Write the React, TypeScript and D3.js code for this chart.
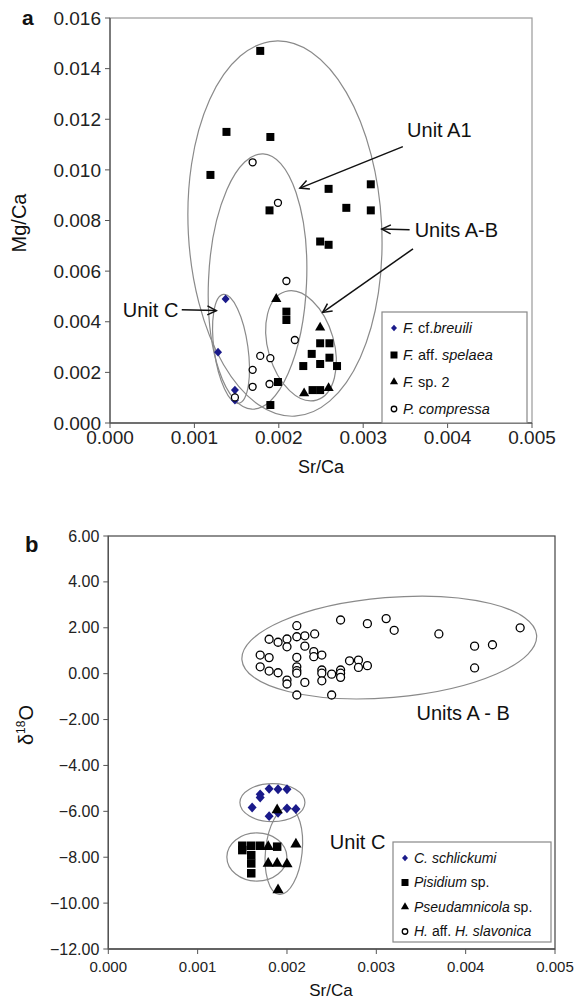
import React from "react";
import * as d3 from "d3";

// ---- panel a data (Sr/Ca, Mg/Ca) ----
const aBreuili = [[0.00137, 0.0049], [0.00128, 0.0028], [0.00148, 0.0013], [0.00148, 0.0009]];
const aSpelaea = [
  [0.00178, 0.0147], [0.00138, 0.0115], [0.0019, 0.0113], [0.00119, 0.0098],
  [0.00259, 0.00925], [0.00189, 0.0084], [0.0028, 0.0085], [0.00309, 0.00943],
  [0.00309, 0.0084], [0.00249, 0.00717], [0.00259, 0.00704], [0.00209, 0.0044],
  [0.00209, 0.00407], [0.00199, 0.00162], [0.0019, 0.00071], [0.00249, 0.00315],
  [0.0026, 0.00315], [0.00239, 0.00273], [0.0026, 0.00258], [0.00229, 0.00225],
  [0.00249, 0.00233], [0.00269, 0.00225], [0.0024, 0.0013], [0.00249, 0.0013]
];
const aSp2 = [[0.00197, 0.0049], [0.00249, 0.00377], [0.0023, 0.00117], [0.00259, 0.00138]];
const aCompressa = [
  [0.00169, 0.0103], [0.00199, 0.0087], [0.00209, 0.00561], [0.00219, 0.00328],
  [0.00178, 0.00265], [0.0019, 0.00256], [0.00169, 0.0021], [0.00169, 0.00143],
  [0.00189, 0.00154], [0.00148, 0.00101]
];
// ellipses: cx, cy, rx, ry (data units), rotation (deg)
const aEllipses = [
  [0.002073, 0.00768, 0.001146, 0.00742, -3],
  [0.001748, 0.00559, 0.000581, 0.00505, 2.5],
  [0.001434, 0.00293, 0.000201, 0.00217, -8],
  [0.002263, 0.00305, 0.000391, 0.00223, -16]
];
const aArrows = [
  [0.00347, 0.01092, 0.00225, 0.00928],
  [0.00355, 0.00763, 0.00322, 0.00766],
  [0.00359, 0.00688, 0.00252, 0.00437],
  [0.00085, 0.00447, 0.00126, 0.00444]
];
const aNotes = [
  ["Unit A1", 0.00352, 0.01158, "start"],
  ["Units A-B", 0.00361, 0.00763, "start"],
  ["Unit C", 0.00081, 0.00447, "end"]
];

// ---- panel b data (Sr/Ca, d18O) ----
const bSchlickumi = [
  [0.0017, -5.26], [0.0017, -5.4], [0.0018, -5.02], [0.0019, -5.04], [0.002, -5.04],
  [0.00161, -5.83], [0.0018, -6.21], [0.0019, -6.06], [0.002, -5.87], [0.0021, -5.9]
];
const bPisidium = [
  [0.0015, -7.5], [0.0015, -7.69], [0.0016, -7.5], [0.0016, -7.91], [0.0016, -8.27],
  [0.0016, -8.7], [0.0017, -7.5], [0.00189, -7.54]
];
const bPseudamnicola = [
  [0.00189, -5.94], [0.00179, -7.54], [0.0021, -7.43], [0.00179, -8.27],
  [0.00189, -8.27], [0.002, -8.3], [0.0019, -9.43]
];
const bSlavonica = [
  [0.00211, 2.09], [0.0018, 1.5], [0.0019, 1.37], [0.002, 1.51], [0.002, 1.17],
  [0.00211, 1.61], [0.0022, 1.65], [0.0022, 1.2], [0.00231, 1.73], [0.0017, 0.81],
  [0.0018, 0.7], [0.00211, 0.71], [0.0023, 0.96], [0.0023, 0.74], [0.0017, 0.3],
  [0.0018, 0.115], [0.0019, 0.04], [0.00211, 0.3], [0.00211, 0.13], [0.00211, 0.02],
  [0.002, -0.28], [0.002, -0.45], [0.0022, -0.38], [0.00211, -0.93],
  [0.0026, 2.34], [0.0029, 2.18], [0.00311, 2.4], [0.0032, 1.89], [0.0037, 1.73],
  [0.00461, 2.0], [0.0041, 1.2], [0.0043, 1.26], [0.0041, 0.25], [0.00239, 0.81],
  [0.00239, 0.16], [0.00239, 0.02], [0.00239, -0.31], [0.0025, -0.02], [0.0026, 0.16],
  [0.0026, 0.02], [0.0026, -0.16], [0.0027, 0.56], [0.0028, 0.59], [0.0028, 0.27],
  [0.0029, 0.35], [0.0025, -0.93]
];
const bEllipses = [
  [0.003145, 1.14, 0.001655, 2.18, -4.8],
  [0.001837, -5.62, 0.000364, 0.83, 0],
  [0.001663, -7.99, 0.000336, 1.05, 0],
  [0.001965, -7.73, 0.000205, 1.9, 6]
];
const bNotes = [
  ["Units A - B", 0.00345, -1.72, "start"],
  ["Unit C", 0.00248, -7.34, "start"]
];

const xTicks = [0, 0.001, 0.002, 0.003, 0.004, 0.005];
const aYTicks = [0, 0.002, 0.004, 0.006, 0.008, 0.01, 0.012, 0.014, 0.016];
const bYTicks = [-12, -10, -8, -6, -4, -2, 0, 2, 4, 6];

const FONT = "'Liberation Sans', Arial, sans-serif";
const BLUE = "#1a1a8a";

function Mark({ type, x, y, s }) {
  if (type === "circle") {
    return <circle cx={x} cy={y} r={s / 2} fill="#fff" stroke="#000" strokeWidth={1.3} />;
  }
  if (type === "diamond") {
    const h = s / 2;
    return <path transform={`translate(${x},${y})`} d={`M0,${-h * 1.1}L${h},0L0,${h * 1.1}L${-h},0Z`} fill={BLUE} />;
  }
  const sym = type === "square" ? d3.symbolSquare : d3.symbolTriangle;
  const area = type === "square" ? s * s : s * s * 0.45;
  return <path transform={`translate(${x},${y})`} d={d3.symbol().type(sym).size(area)()} fill="#000" />;
}

function Panel({ x, y, yTicks, yFmt, yTickSize, xTickSize, xTickDy, series, ellipses, arrows, notes, frame, noteSize }) {
  const [x0, x1] = x.range();
  const [yb, yt] = y.range();
  return (
    <g fontFamily={FONT}>
      <rect x={x0} y={yt} width={x1 - x0} height={yb - yt} fill="none" stroke={frame} strokeWidth={1.2} />
      <line x1={x0} x2={x0} y1={yt} y2={yb} stroke="#555" strokeWidth={1.3} />
      <line x1={x0} x2={x1} y1={yb} y2={yb} stroke="#555" strokeWidth={1.3} />
      {yTicks.map((t) => (
        <g key={"y" + t}>
          <line x1={x0 - 5} x2={x0} y1={y(t)} y2={y(t)} stroke="#555" />
          <text x={x0 - 9} y={y(t)} dy="0.35em" textAnchor="end" fontSize={yTickSize} fill="#222">{yFmt(t)}</text>
        </g>
      ))}
      {xTicks.map((t) => (
        <g key={"x" + t}>
          <line x1={x(t)} x2={x(t)} y1={yb} y2={yb + 5} stroke="#555" />
          <text x={x(t)} y={yb + xTickDy} textAnchor="middle" fontSize={xTickSize} fill="#222">{d3.format(".3f")(t)}</text>
        </g>
      ))}
      {ellipses.map(([cx, cy, rx, ry, rot], i) => (
        <ellipse
          key={"e" + i}
          cx={x(cx)}
          cy={y(cy)}
          rx={x(cx + rx) - x(cx)}
          ry={y(cy) - y(cy + ry)}
          transform={`rotate(${rot},${x(cx)},${y(cy)})`}
          fill="none"
          stroke="#8a8a8a"
          strokeWidth={1.2}
        />
      ))}
      {series.map((s, i) =>
        s.data.map(([a, b], j) => <Mark key={i + "-" + j} type={s.type} x={x(a)} y={y(b)} s={s.size} />)
      )}
      {arrows.map(([ax, ay, bx, by], i) => (
        <line key={"a" + i} x1={x(ax)} y1={y(ay)} x2={x(bx)} y2={y(by)} stroke="#111" strokeWidth={1.5} markerEnd="url(#arrowhead)" />
      ))}
      {notes.map(([t, nx, ny, anchor]) => (
        <text key={t} x={x(nx)} y={y(ny)} dy="0.35em" textAnchor={anchor} fontSize={noteSize} fill="#111">{t}</text>
      ))}
    </g>
  );
}

function Legend({ x, y, w, h, rows, rowH, fontSize }) {
  return (
    <g fontFamily={FONT} fontSize={fontSize} fill="#111">
      <rect x={x} y={y} width={w} height={h} fill="#fff" stroke="#888" strokeWidth={1.2} />
      {rows.map((r, i) => (
        <g key={i}>
          <Mark type={r.type} x={x + 12} y={y + 16 + i * rowH} s={r.size} />
          <text x={x + 21} y={y + 16 + i * rowH} dy="0.35em">
            {r.parts.map(([txt, it], k) => (
              <tspan key={k} fontStyle={it ? "italic" : "normal"}>{txt}</tspan>
            ))}
          </text>
        </g>
      ))}
    </g>
  );
}

export default function App() {
  const xa = d3.scaleLinear().domain([0, 0.005]).range([110, 532]);
  const ya = d3.scaleLinear().domain([0, 0.016]).range([423, 18]);
  const xb = d3.scaleLinear().domain([0, 0.005]).range([108.3, 555]);
  const yb = d3.scaleLinear().domain([-12, 6]).range([949, 536]);

  return (
    <svg width={585} height={999} style={{ position: "absolute", left: 0, top: 0, background: "#fff" }}>
      <defs>
        <marker id="arrowhead" viewBox="-10 -6 12 12" markerWidth={12} markerHeight={12} markerUnits="userSpaceOnUse" orient="auto">
          <path d="M-9,-4.5 L0,0 L-9,4.5" fill="none" stroke="#111" strokeWidth={1.5} />
        </marker>
      </defs>
      <rect width={585} height={999} fill="#fff" />

      <Panel
        x={xa}
        y={ya}
        yTicks={aYTicks}
        yFmt={d3.format(".3f")}
        yTickSize={19}
        xTickSize={19}
        xTickDy={21}
        frame="#9a9a9a"
        noteSize={20}
        series={[
          { type: "diamond", data: aBreuili, size: 8 },
          { type: "square", data: aSpelaea, size: 8 },
          { type: "triangle", data: aSp2, size: 10 },
          { type: "circle", data: aCompressa, size: 7 }
        ]}
        ellipses={aEllipses}
        arrows={aArrows}
        notes={aNotes}
      />
      <Legend
        x={382}
        y={312}
        w={145}
        h={111}
        rowH={27}
        fontSize={14.5}
        rows={[
          { type: "diamond", size: 6, parts: [["F.", true], [" cf.", false], ["breuili", true]] },
          { type: "square", size: 7, parts: [["F.", true], [" aff. ", false], ["spelaea", true]] },
          { type: "triangle", size: 8, parts: [["F.", true], [" sp. 2", false]] },
          { type: "circle", size: 5.5, parts: [["P. compressa", true]] }
        ]}
      />
      <g fontFamily={FONT} fill="#111">
        <text x={22} y={25} fontSize={21} fontWeight="bold">a</text>
        <text transform="translate(26,223) rotate(-90)" textAnchor="middle" fontSize={20}>Mg/Ca</text>
        <text x={321} y={473} textAnchor="middle" fontSize={18}>Sr/Ca</text>
      </g>

      <Panel
        x={xb}
        y={yb}
        yTicks={bYTicks}
        yFmt={d3.format(".2f")}
        yTickSize={16}
        xTickSize={15}
        xTickDy={23}
        frame="#444"
        noteSize={20}
        series={[
          { type: "circle", data: bSlavonica, size: 8 },
          { type: "diamond", data: bSchlickumi, size: 9 },
          { type: "square", data: bPisidium, size: 8.5 },
          { type: "triangle", data: bPseudamnicola, size: 11 }
        ]}
        ellipses={bEllipses}
        arrows={[]}
        notes={bNotes}
      />
      <Legend
        x={393}
        y={842}
        w={158}
        h={100}
        rowH={24.5}
        fontSize={14}
        rows={[
          { type: "diamond", size: 6, parts: [["C. schlickumi", true]] },
          { type: "square", size: 7, parts: [["Pisidium", true], ["  sp.", false]] },
          { type: "triangle", size: 8, parts: [["Pseudamnicola", true], [" sp.", false]] },
          { type: "circle", size: 5.5, parts: [["H.", true], [" aff.  ", false], ["H. slavonica", true]] }
        ]}
      />
      <g fontFamily={FONT} fill="#111">
        <text x={25} y={552} fontSize={22} fontWeight="bold">b</text>
        <text transform="translate(33,725) rotate(-90)" textAnchor="middle" fontSize={20}>
          δ<tspan fontSize={12} dy={-8}>18</tspan><tspan dy={8}>O</tspan>
        </text>
        <text x={331} y={996} textAnchor="middle" fontSize={17}>Sr/Ca</text>
      </g>
    </svg>
  );
}
